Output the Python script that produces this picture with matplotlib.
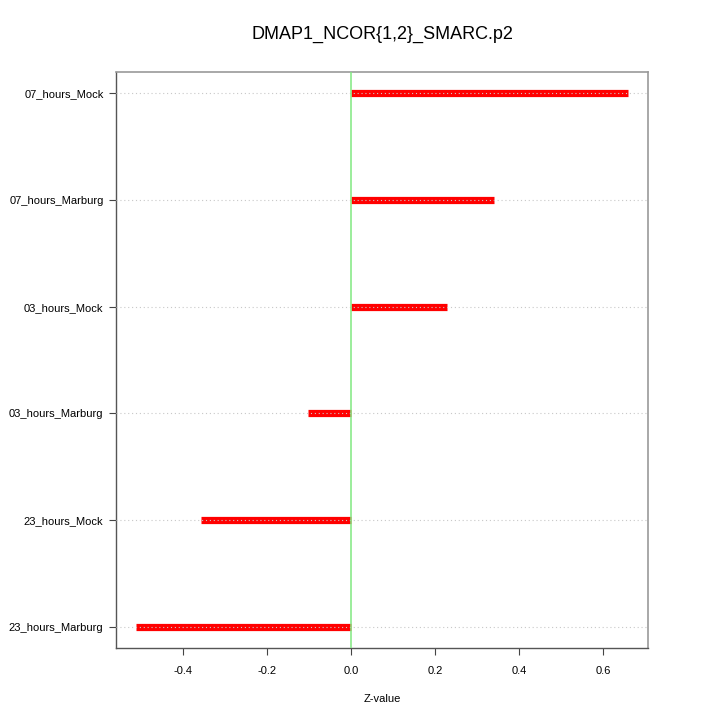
import numpy as np
import matplotlib.pyplot as plt

plt.rcParams['font.family'] = ['Liberation Sans', 'DejaVu Sans']

labels = ["23_hours_Marburg", "23_hours_Mock", "03_hours_Marburg",
          "03_hours_Mock", "07_hours_Marburg", "07_hours_Mock"]
zvals = [-0.5135, -0.358, -0.104, 0.228, 0.340, 0.660]
xticks = [-0.4, -0.2, 0.0, 0.2, 0.4, 0.6]

fig = plt.figure(figsize=(7.2, 7.2), dpi=100)
ax = fig.add_axes([116/720, 72/720, 532/720, 576/720])

ypos = np.arange(1, len(labels)+1)
for y, v in zip(ypos, zvals):
    ax.plot([0, v], [y, y], color='red', lw=5.2, solid_capstyle='butt', zorder=2)
ax.axvline(0, color='#80e880', lw=1.1, zorder=5)
for y in ypos:
    ax.axhline(y, color='#c8c8c8', lw=0.8, ls=(0, (1, 2.5)), zorder=4)

# R-style 4% padding
lo, hi = min(zvals), max(zvals)
pad = 0.04*(hi-lo)
ax.set_xlim(lo-pad, hi+pad)
ax.set_ylim(0.8, len(labels)+0.2)

ax.set_yticks(ypos)
ax.set_yticklabels(labels, fontsize=8)
ax.set_xticks(xticks)
ax.set_xticklabels(["%.1f" % t for t in xticks], fontsize=8)
ax.tick_params(axis='both', length=5, width=0.8, color='#444444', pad=4)
ax.tick_params(axis='x', pad=8)

for s in ['top', 'right']:
    ax.spines[s].set_color('#999999')
    ax.spines[s].set_linewidth(1.2)
for s in ['left', 'bottom']:
    ax.spines[s].set_color('#555555')
    ax.spines[s].set_linewidth(1.0)

ax.set_xlabel('Z-value', fontsize=8, labelpad=13)
fig.text(0.531, 1-34/720, 'DMAP1_NCOR{1,2}_SMARC.p2', fontsize=13,
         ha='center', va='center')

plt.savefig('out.png', dpi=100)
